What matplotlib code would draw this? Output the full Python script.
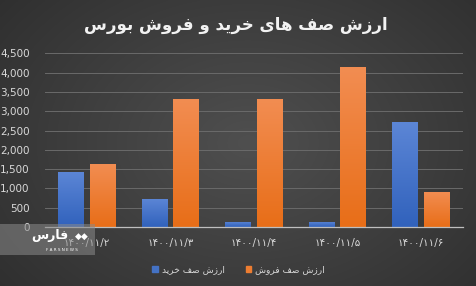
import numpy as np
import matplotlib
matplotlib.use("Agg")
import matplotlib.pyplot as plt
from matplotlib.patches import Rectangle, Patch

title = "ارزش صف های خرید و فروش بورس"
dates = ["۱۴۰۰/۱۱/۲", "۱۴۰۰/۱۱/۳", "۱۴۰۰/۱۱/۴", "۱۴۰۰/۱۱/۵", "۱۴۰۰/۱۱/۶"]
buy_name = "ارزش صف خرید"
sell_name = "ارزش صف فروش"
buy = [1430, 735, 140, 140, 2725]
sell = [1640, 3320, 3320, 4155, 915]
yticks = [0, 500, 1000, 1500, 2000, 2500, 3000, 3500, 4000, 4500]

# matplotlib does no arabic shaping, so map to presentation forms by hand
FORMS = {
    "ا": ("\uFE8D", "\uFE8E", None, None),
    "ب": ("\uFE8F", "\uFE90", "\uFE91", "\uFE92"),
    "خ": ("\uFEA5", "\uFEA6", "\uFEA7", "\uFEA8"),
    "د": ("\uFEA9", "\uFEAA", None, None),
    "ر": ("\uFEAD", "\uFEAE", None, None),
    "ز": ("\uFEAF", "\uFEB0", None, None),
    "س": ("\uFEB1", "\uFEB2", "\uFEB3", "\uFEB4"),
    "ش": ("\uFEB5", "\uFEB6", "\uFEB7", "\uFEB8"),
    "ص": ("\uFEB9", "\uFEBA", "\uFEBB", "\uFEBC"),
    "ف": ("\uFED1", "\uFED2", "\uFED3", "\uFED4"),
    "ه": ("\uFEE9", "\uFEEA", "\uFEEB", "\uFEEC"),
    "و": ("\uFEED", "\uFEEE", None, None),
    "ی": ("\uFEEF", "\uFEF0", "\uFEF3", "\uFEF4"),
}


def fa(s):
    out = []
    for i, c in enumerate(s):
        if c not in FORMS:
            out.append(c)
            continue
        prev = s[i - 1] if i > 0 else ""
        nxt = s[i + 1] if i + 1 < len(s) else ""
        jp = prev in FORMS and FORMS[prev][2] is not None
        jn = FORMS[c][2] is not None and nxt in FORMS
        iso, fin, ini, med = FORMS[c]
        if jp and jn:
            out.append(med)
        elif jp:
            out.append(fin)
        elif jn:
            out.append(ini)
        else:
            out.append(iso)
    return "".join(out[::-1])


plt.rcParams["font.family"] = ["DejaVu Sans"]

fig = plt.figure(figsize=(4.77, 2.86), dpi=100)

# background: dark radial gradient
bg = fig.add_axes([0, 0, 1, 1], zorder=-10)
yy, xx = np.mgrid[0:1:200j, 0:1:300j]
r = np.sqrt(((xx - 0.52) / 0.7) ** 2 + ((yy - 0.5) / 0.85) ** 2)
shade = 0.31 - 0.13 * np.clip(r, 0, 1.2)
bg.imshow(np.dstack([shade] * 3), extent=[0, 1, 0, 1], aspect="auto", interpolation="bicubic")
bg.set_axis_off()

ax = fig.add_axes([0.0943, 0.2063, 0.876, 0.6073])
ax.set_facecolor("none")
x = np.arange(len(dates))
w = 0.31
b1 = ax.bar(x - 0.19, buy, w, color="#4472c4", zorder=3)
b2 = ax.bar(x + 0.19, sell, w, color="#ed7d31", zorder=3)


def grad(bars, top, bottom):
    c1 = np.array(matplotlib.colors.to_rgb(top))
    c2 = np.array(matplotlib.colors.to_rgb(bottom))
    t = np.linspace(0, 1, 64)[:, None]
    img = (c1 * (1 - t) + c2 * t)[:, None, :]
    for p in bars:
        x0, y0 = p.get_x(), p.get_y()
        im = ax.imshow(img, extent=[x0, x0 + p.get_width(), y0, y0 + p.get_height()],
                       aspect="auto", zorder=4, interpolation="bilinear")
        im.set_clip_path(p)


grad(b1, "#5c86d6", "#3162bc")
grad(b2, "#f28d52", "#e86e18")

ax.set_xlim(-0.5, len(dates) - 0.5)
ax.set_ylim(0, 4500)
ax.set_yticks(yticks)
ax.set_yticklabels([f"{v:,}" for v in yticks])
ax.set_xticks(x)
ax.set_xticklabels(dates)
ax.tick_params(axis="y", length=0, pad=11, labelsize=7.5, labelcolor="#d9d9d9")
ax.tick_params(axis="x", length=0, pad=8, labelsize=7.5, labelcolor="#d9d9d9")
ax.grid(axis="y", color="#6a6a6a", lw=0.7, zorder=0)
for s in ["top", "right", "left"]:
    ax.spines[s].set_visible(False)
ax.spines["bottom"].set_color("#bfbfbf")
ax.spines["bottom"].set_linewidth(0.9)
ax.spines["bottom"].set_zorder(5)

fig.text(0.495, 0.912, fa(title), ha="center", va="center", fontsize=12,
         fontweight="bold", color="#f2f2f2")

handles = [Patch(color="#4472c4"), Patch(color="#ed7d31")]
fig.legend(handles, [fa(buy_name), fa(sell_name)], loc="center",
           bbox_to_anchor=(0.5, 0.057), ncol=2, frameon=False, fontsize=6.5,
           labelcolor="#d9d9d9", handlelength=0.6, handleheight=0.6,
           handletextpad=0.45, columnspacing=2.3)

# farsnews watermark
fig.add_artist(Rectangle((0, 1 - 255 / 286), 95 / 477, 31 / 286, transform=fig.transFigure,
                         facecolor="#8a8a8a", alpha=0.55, edgecolor="none", zorder=10))
fig.text(50 / 477, 1 - 236 / 286, fa("فارس"), ha="center", va="center", fontsize=9,
         fontweight="bold", color="white", zorder=11)
fig.text(82 / 477, 1 - 236 / 286, "◆◆", ha="center", va="center", fontsize=6.5,
         color="white", zorder=11)
fig.text(62 / 477, 1 - 250 / 286, "F A R S N E W S", ha="center", va="center", fontsize=3,
         color="white", zorder=11)

fig.savefig("out.png", dpi=100)
